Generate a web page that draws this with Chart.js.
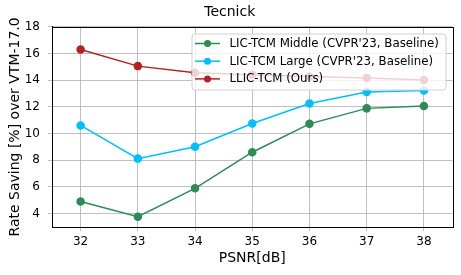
<!DOCTYPE html>
<html><head><meta charset="utf-8">
<script src="https://cdn.jsdelivr.net/npm/chart.js@4"></script>
<style>html,body{margin:0;padding:0;background:#fff;}#wrap{width:461px;height:275px;}</style>
</head><body><div id="wrap"><canvas id="c" width="461" height="275"></canvas></div>
<script>
const psnr = [32, 33, 34, 35, 36, 37, 38];
const xTicks = [32, 33, 34, 35, 36, 37, 38];
const yTicks = [4, 6, 8, 10, 12, 14, 16, 18];
const tcmMiddle = [4.9, 3.75, 5.88, 8.59, 10.72, 11.88, 12.06];
const tcmLarge = [10.6, 8.11, 9.0, 10.75, 12.25, 13.1, 13.23];
const llicTcm = [16.3, 15.05, 14.56, 14.4, 14.28, 14.16, 14.01];
const seriesLabels = ["LIC-TCM Middle (CVPR'23, Baseline)", "LIC-TCM Large (CVPR'23, Baseline)", "LLIC-TCM (Ours)"];
const seriesColors = ["#2e8b57", "#00bfff", "#b22222"];
const FONT = "'DejaVu Sans', sans-serif";

const toPts = arr => arr.map((v, i) => ({x: psnr[i], y: v}));
const datasets = [tcmMiddle, tcmLarge, llicTcm].map((d, i) => ({
  label: seriesLabels[i], data: toPts(d), borderColor: seriesColors[i], backgroundColor: seriesColors[i],
  borderWidth: 1.5, pointRadius: 3.5, pointHoverRadius: 3.5, tension: 0
}));

const frameAndLegend = {
  id: 'frameAndLegend',
  afterDatasetsDraw(chart) {
    const ctx = chart.ctx, a = chart.chartArea;
    ctx.save();
    ctx.strokeStyle = '#000'; ctx.lineWidth = 1;
    ctx.strokeRect(Math.round(a.left) + 0.5, Math.round(a.top) + 0.5, Math.round(a.right - a.left), Math.round(a.bottom - a.top));
    // legend
    const bx = 192, by = 34, bw = 254, bh = 56, r = 3;
    ctx.fillStyle = 'rgba(255,255,255,0.8)';
    ctx.strokeStyle = '#d0d0d0';
    ctx.beginPath();
    ctx.moveTo(bx + r, by); ctx.lineTo(bx + bw - r, by); ctx.quadraticCurveTo(bx + bw, by, bx + bw, by + r);
    ctx.lineTo(bx + bw, by + bh - r); ctx.quadraticCurveTo(bx + bw, by + bh, bx + bw - r, by + bh);
    ctx.lineTo(bx + r, by + bh); ctx.quadraticCurveTo(bx, by + bh, bx, by + bh - r);
    ctx.lineTo(bx, by + r); ctx.quadraticCurveTo(bx, by, bx + r, by);
    ctx.closePath(); ctx.fill(); ctx.stroke();
    ctx.font = '11.8px ' + FONT; ctx.textBaseline = 'middle'; ctx.textAlign = 'left';
    chart.data.datasets.forEach((ds, i) => {
      const y = 43.5 + i * 17.7;
      ctx.strokeStyle = ds.borderColor; ctx.lineWidth = 1.5;
      ctx.beginPath(); ctx.moveTo(195, y); ctx.lineTo(220, y); ctx.stroke();
      ctx.fillStyle = ds.borderColor;
      ctx.beginPath(); ctx.arc(207.5, y, 3.5, 0, Math.PI * 2); ctx.fill();
      ctx.fillStyle = '#000';
      ctx.fillText(ds.label, 229.5, y + 0.5);
    });
    ctx.restore();
  }
};

new Chart(document.getElementById('c'), {
  type: 'line',
  data: {datasets},
  options: {
    responsive: false, animation: false, devicePixelRatio: 1,
    layout: {padding: {left: 7, right: 8.5, top: 0, bottom: 8}},
    plugins: {
      legend: {display: false}, tooltip: {enabled: false},
      title: {display: true, text: 'Tecnick', color: '#000', font: {family: FONT, size: 14, weight: 'normal'}, padding: {top: 4, bottom: 6}}
    },
    scales: {
      x: {
        type: 'linear', min: 31.5, max: 38.5,
        afterBuildTicks: s => { s.ticks = xTicks.map(v => ({value: v})); },
        afterFit: s => { s.height = 40; },
        grid: {color: '#b0b0b0', lineWidth: 0.8, tickLength: 4},
        border: {color: '#000', width: 1},
        ticks: {color: '#000', font: {family: FONT, size: 12}, padding: 4, maxRotation: 0},
        title: {display: true, text: 'PSNR[dB]', color: '#000', font: {family: FONT, size: 14}, padding: {top: 2, bottom: 0}}
      },
      y: {
        type: 'linear', min: 2.98, max: 18,
        afterBuildTicks: s => { s.ticks = yTicks.map(v => ({value: v})); },
        afterFit: s => { s.width = 45; },
        grid: {color: '#b0b0b0', lineWidth: 0.8, tickLength: 4},
        border: {color: '#000', width: 1},
        ticks: {color: '#000', font: {family: FONT, size: 12}, padding: 8},
        title: {display: true, text: 'Rate Saving [%] over VTM-17.0', color: '#000', font: {family: FONT, size: 14}, padding: {top: 0, bottom: 2}}
      }
    }
  },
  plugins: [frameAndLegend]
});
</script></body></html>
